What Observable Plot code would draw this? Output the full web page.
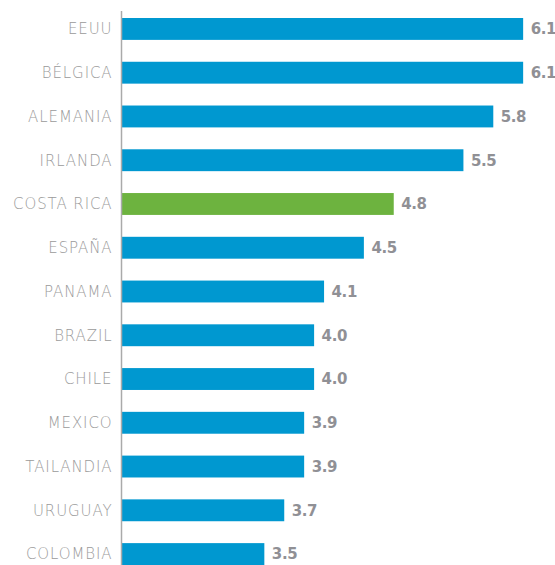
<!DOCTYPE html>
<html>
<head>
<meta charset="utf-8">
<script src="https://cdn.jsdelivr.net/npm/d3@7"></script>
<script src="https://cdn.jsdelivr.net/npm/@observablehq/plot@0.6"></script>
<style>
  html, body { margin: 0; padding: 0; background: #fff; overflow: hidden; }
  #chart svg { display: block; }
  #chart svg g[aria-label="y-axis tick label"] text { letter-spacing: 0.9px; }
  #chart svg g[aria-label="text"] text { letter-spacing: -0.4px; }
</style>
</head>
<body>
<div id="chart"></div>
<script>
const countries = ["EEUU", "BÉLGICA", "ALEMANIA", "IRLANDA", "COSTA RICA", "ESPAÑA", "PANAMA", "BRAZIL", "CHILE", "MEXICO", "TAILANDIA", "URUGUAY", "COLOMBIA"];
const values = [6.1, 6.1, 5.8, 5.5, 4.8, 4.5, 4.1, 4.0, 4.0, 3.9, 3.9, 3.7, 3.5];
const highlight = "COSTA RICA";

const data = countries.map((c, i) => ({country: c, value: values[i], hi: c === highlight}));
const xMin = 2.06;

const chart = Plot.plot({
  width: 555,
  height: 565,
  marginLeft: 121,
  marginRight: 0,
  marginTop: 11,
  marginBottom: 0,
  style: {fontFamily: "'DejaVu Sans', sans-serif", background: "#fff"},
  x: {domain: [xMin, 6.42], axis: null},
  y: {domain: countries, paddingInner: 0.5, paddingOuter: 0.08, align: 1, round: false, label: null},
  marks: [
    Plot.barX(data, {y: "country", x1: xMin, x2: "value", fill: d => d.hi ? "#6DB33F" : "#0098D0"}),
    Plot.text(data, {y: "country", x: "value", text: d => d.value.toFixed(1), dx: 7, textAnchor: "start",
      fill: "#909095", fontWeight: "bold", fontSize: 15, fontFamily: "'DejaVu Sans', sans-serif"}),
    Plot.axisY({tickSize: 0, tickPadding: 9, fontSize: 15, fill: "#9a9a9a", fontWeight: 200, label: null,
      fontFamily: "'DejaVu Sans', sans-serif"}),
    Plot.ruleX([xMin], {stroke: "#aaaaaa", strokeWidth: 1.5})
  ]
});
document.getElementById("chart").appendChild(chart);
</script>
</body>
</html>
